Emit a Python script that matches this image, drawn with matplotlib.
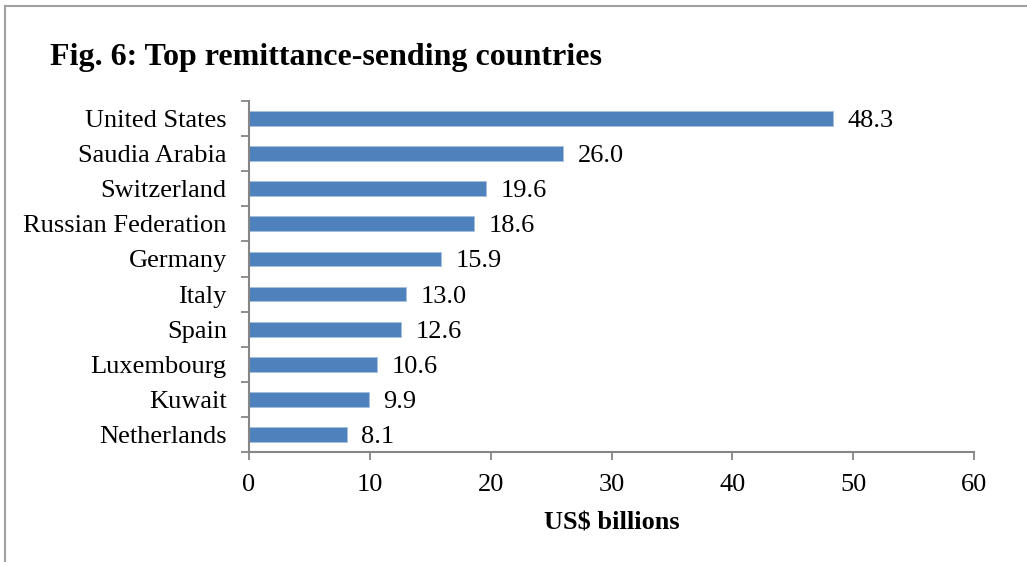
import matplotlib.pyplot as plt
from matplotlib.lines import Line2D
import numpy as np

countries = ["United States", "Saudia Arabia", "Switzerland", "Russian Federation",
             "Germany", "Italy", "Spain", "Luxembourg", "Kuwait", "Netherlands"]
values = [48.3, 26.0, 19.6, 18.6, 15.9, 13.0, 12.6, 10.6, 9.9, 8.1]
xticks = [0, 10, 20, 30, 40, 50, 60]

plt.rcParams['font.family'] = ['Liberation Serif', 'DejaVu Serif']
axis_grey = '#868686'

fig = plt.figure(figsize=(10.27, 5.62), dpi=100)
ax = fig.add_axes([0.2425, 0.1957, 0.7059, 0.6246])

# top row first, so reverse the y positions
ypos = np.arange(len(countries))[::-1]
ax.barh(ypos, values, height=0.42, color='#4F81BD', edgecolor='#A7BFDE', linewidth=0.6)

for y, v in zip(ypos, values):
    ax.text(v + 1.2, y, f"{v:.1f}", va='center_baseline', ha='left', fontsize=19)

ax.set_xlim(0, 60)
ax.set_ylim(-0.5, len(countries) - 0.5)
ax.set_xticks(xticks)
ax.set_xticklabels([str(t) for t in xticks])
ax.set_yticks(ypos)
ax.set_yticklabels(countries, va='center_baseline')
ax.set_yticks(np.arange(-0.5, len(countries)), minor=True)

ax.tick_params(axis='y', which='major', length=0, pad=16, labelsize=19)
ax.tick_params(axis='y', which='minor', length=6, width=1.3, color=axis_grey, direction='out')
ax.tick_params(axis='x', which='major', length=6, width=1.3, color=axis_grey,
               direction='out', pad=10, labelsize=19)

for side in ['top', 'right']:
    ax.spines[side].set_visible(False)
for side in ['left', 'bottom']:
    ax.spines[side].set_color(axis_grey)
    ax.spines[side].set_linewidth(1.5)

ax.set_xlabel("US$ billions", fontsize=19, fontweight='bold', labelpad=11)

fig.text(50 / 1027, 1 - 57 / 562, "Fig. 6: Top remittance-sending countries",
         fontsize=23, fontweight='bold', ha='left', va='center')

# outer frame, open on the right and bottom
frame_x = 4.5 / 1027
frame_y = 1 - 5.5 / 562
fig.add_artist(Line2D([frame_x, 1], [frame_y, frame_y], color='#A0A0A0', lw=1.5,
                      transform=fig.transFigure))
fig.add_artist(Line2D([frame_x, frame_x], [0, frame_y], color='#A0A0A0', lw=1.5,
                      transform=fig.transFigure))

fig.savefig("out.png", dpi=100)
